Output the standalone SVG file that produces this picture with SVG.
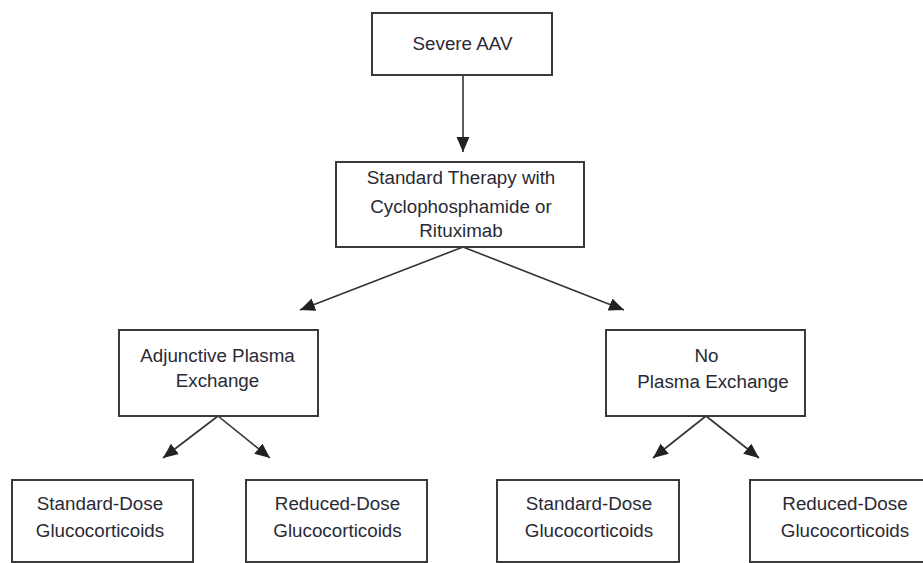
<svg xmlns="http://www.w3.org/2000/svg" width="923" height="563" viewBox="0 0 923 563">
<style>
.box{fill:#fff;stroke:#3a3a3a;stroke-width:2}
.lbl{font-family:"Liberation Sans",Arial,sans-serif;font-size:18.8px;fill:#2a2a35;text-anchor:middle}
.conn{stroke:#333;stroke-width:1.6;fill:none}
</style>
<defs>
<marker id="ah" markerUnits="userSpaceOnUse" markerWidth="16" markerHeight="14" refX="15" refY="6.5" orient="auto">
<path d="M0,0 L15,6.5 L0,13 Z" fill="#222"/>
</marker>
</defs>
<rect width="923" height="563" fill="#fff"/>
<g id="connectors">
<line class="conn" x1="463" y1="75" x2="463" y2="152" marker-end="url(#ah)"/>
<line class="conn" x1="463" y1="247" x2="300" y2="310" marker-end="url(#ah)"/>
<line class="conn" x1="463" y1="247" x2="624" y2="310" marker-end="url(#ah)"/>
<line class="conn" x1="218" y1="416" x2="163" y2="458" marker-end="url(#ah)"/>
<line class="conn" x1="218" y1="416" x2="270" y2="458" marker-end="url(#ah)"/>
<line class="conn" x1="706" y1="416" x2="653" y2="458" marker-end="url(#ah)"/>
<line class="conn" x1="706" y1="416" x2="759" y2="458" marker-end="url(#ah)"/>
</g>
<g id="severe-aav">
<rect class="box" x="372" y="13" width="180" height="62"/>
<text class="lbl" x="462.5" y="50">Severe AAV</text>
</g>
<g id="standard-therapy">
<rect class="box" x="336" y="162" width="248" height="85"/>
<text class="lbl" x="461" y="184">Standard Therapy with</text>
<text class="lbl" x="461" y="213">Cyclophosphamide or</text>
<text class="lbl" x="461" y="237">Rituximab</text>
</g>
<g id="adjunctive-pe">
<rect class="box" x="119" y="330" width="199" height="86"/>
<text class="lbl" x="217.5" y="361.5">Adjunctive Plasma</text>
<text class="lbl" x="217.5" y="387">Exchange</text>
</g>
<g id="no-pe">
<rect class="box" x="606" y="330" width="199" height="86"/>
<text class="lbl" x="706.5" y="361.5">No</text>
<text class="lbl" x="713" y="388">Plasma Exchange</text>
</g>
<g id="left-standard">
<rect class="box" x="12" y="480" width="181" height="82"/>
<text class="lbl" x="100" y="510">Standard-Dose</text>
<text class="lbl" x="100" y="537">Glucocorticoids</text>
</g>
<g id="left-reduced">
<rect class="box" x="246" y="480" width="181" height="82"/>
<text class="lbl" x="337.5" y="510">Reduced-Dose</text>
<text class="lbl" x="337.5" y="537">Glucocorticoids</text>
</g>
<g id="right-standard">
<rect class="box" x="497" y="480" width="182" height="82"/>
<text class="lbl" x="589" y="510">Standard-Dose</text>
<text class="lbl" x="589" y="537">Glucocorticoids</text>
</g>
<g id="right-reduced">
<rect class="box" x="750" y="480" width="190" height="82"/>
<text class="lbl" x="845" y="510">Reduced-Dose</text>
<text class="lbl" x="845" y="537">Glucocorticoids</text>
</g>
</svg>
